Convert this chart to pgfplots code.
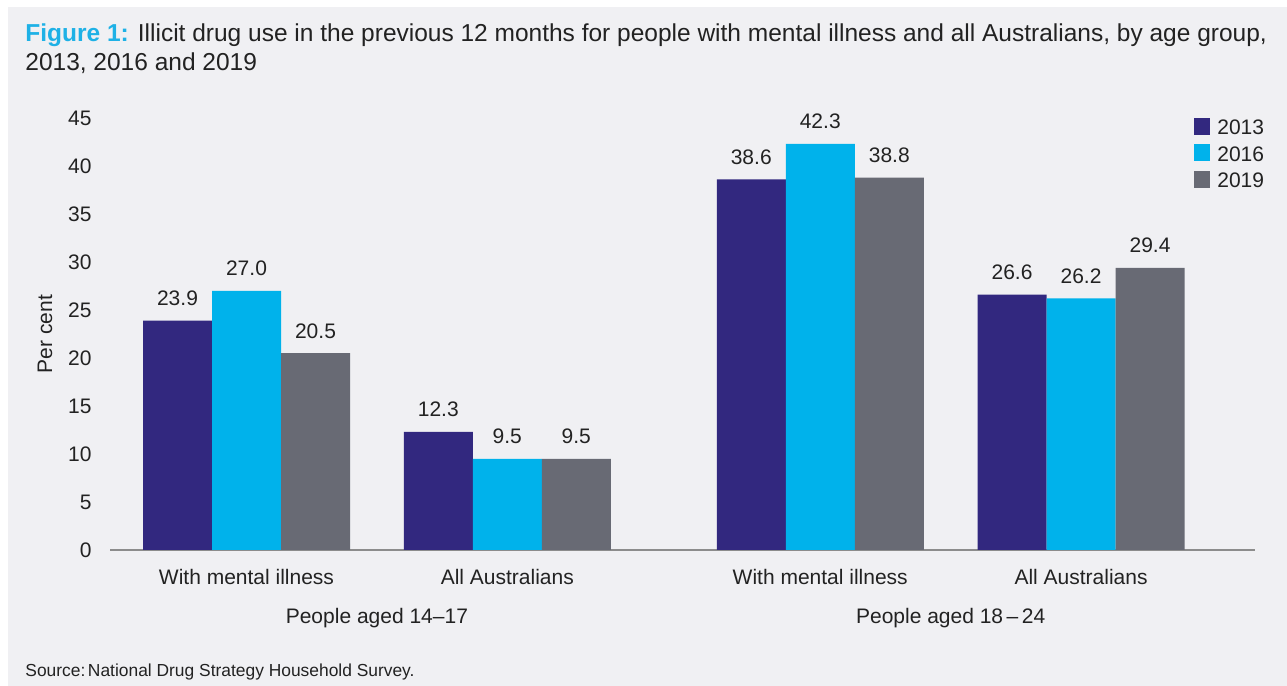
\documentclass[border=0pt]{standalone}
\usepackage{fontspec}
\setmainfont{Liberation Sans}
\usepackage{pgfplots}
\pgfplotsset{compat=1.18}
\definecolor{cA}{HTML}{32287F}
\definecolor{cB}{HTML}{00B2EB}
\definecolor{cC}{HTML}{686A74}
\definecolor{panel}{HTML}{F0F0F3}
\definecolor{txt}{HTML}{222222}
\definecolor{axisgray}{HTML}{8C8C8C}
\definecolor{figblue}{HTML}{1EB1E6}
\newcommand{\mainfs}{\fontsize{10.5}{12}\selectfont}
\newcommand{\titlefs}{\fontsize{12.25}{14}\selectfont}
\begin{document}
\begin{tikzpicture}
\fill[white] (0,0) rectangle (643.5pt,343pt);
\fill[panel] (4pt,0) rectangle (643.5pt,339.5pt);
\node[anchor=base west, inner sep=0pt, font=\titlefs, text=txt] at (12.5pt,322pt)
  {\textcolor{figblue}{\textbf{Figure 1:}} Illicit drug use in the previous 12 months for people with mental illness and all Australians, by age group,};
\node[anchor=base west, inner sep=0pt, font=\titlefs, text=txt] at (12.5pt,307.5pt)
  {2013, 2016 and 2019};
\node[anchor=base west, inner sep=0pt, font=\fontsize{8.7}{10}\selectfont, text=txt] at (12.5pt,4.5pt)
  {Source:\kern0.15em National Drug Strategy Household Survey.};
\begin{axis}[
  at={(55pt,68pt)}, anchor=south west,
  scale only axis, width=572.5pt, height=216pt,
  xmin=-0.5234, xmax=3.867, ymin=0, ymax=45,
  clip=false,
  ybar=0pt, bar width=34.5pt,
  axis x line*=bottom, axis y line*=left,
  x axis line style={-, draw=axisgray, line width=1pt},
  y axis line style={draw=none},
  xtick={0,1,2.2,3.2},
  xticklabels={With mental illness, All Australians, With mental illness, All Australians},
  ytick={0,5,...,45},
  tick style={draw=none},
  tick label style={font=\mainfs, text=txt},
  /pgf/number format/assume math mode=true,
  yticklabel style={anchor=east, inner sep=0pt},
  yticklabel shift=9pt,
  xticklabel style={anchor=base, inner sep=0pt, yshift=-13pt},
  ylabel={Per cent},
  ylabel style={at={(axis description cs:-0.0568,0.5)}, anchor=center, font=\mainfs, text=txt},
  nodes near coords,
  every node near coord/.append style={font=\mainfs, text=txt, anchor=base, yshift=7.5pt, inner sep=0pt,
     /pgf/number format/.cd, fixed, fixed zerofill, precision=1, assume math mode=true},
  legend style={at={(axis description cs:0.9467,1.002)}, anchor=north west, draw=none, fill=none,
     inner sep=0pt, font=\mainfs, text=txt, row sep=2.75pt, column sep=3.5pt,
     nodes={inner sep=0pt, text height=8pt, text depth=2pt}},
  legend cell align=left,
  legend image code/.code={\fill[#1] (0pt,-3pt) rectangle (8pt,5.5pt);},
]
\addplot[fill=cA, draw=none] coordinates {(0,23.9) (1,12.3) (2.2,38.6) (3.2,26.6)};
\addplot[fill=cB, draw=none] coordinates {(0,27.0) (1,9.5) (2.2,42.3) (3.2,26.2)};
\addplot[fill=cC, draw=none] coordinates {(0,20.5) (1,9.5) (2.2,38.8) (3.2,29.4)};
\legend{2013,2016,2019}
\node[anchor=base, inner sep=0pt, font=\mainfs, text=txt, yshift=-37pt] at (axis cs:0.5,0) {People aged 14--17};
\node[anchor=base, inner sep=0pt, font=\mainfs, text=txt, yshift=-37pt] at (axis cs:2.7,0) {People aged 18\,--\,24};
\end{axis}
\end{tikzpicture}
\end{document}
